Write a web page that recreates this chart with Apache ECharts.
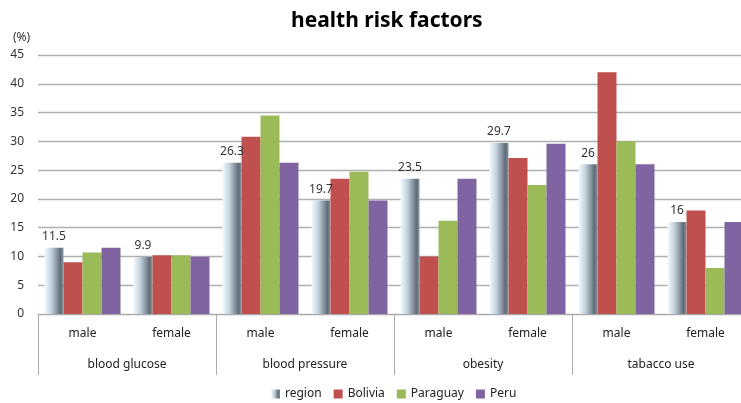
<!DOCTYPE html>
<html>
<head>
<meta charset="utf-8">
<script src="https://cdn.jsdelivr.net/npm/echarts@6/dist/echarts.min.js"></script>
<style>html,body{margin:0;padding:0;background:#fff;overflow:hidden;width:741px;height:403px;}#c{width:750px;height:403px;}</style>
</head>
<body>
<div id="c"></div>
<script>
const subCategories = ['male','female','male','female','male','female','male','female'];
const groups = ['blood glucose','blood pressure','obesity','tabacco use'];
const yTicks = [0,5,10,15,20,25,30,35,40,45];
const region   = [11.5, 9.9, 26.3, 19.7, 23.5, 29.7, 26, 16];
const bolivia  = [9.0, 10.2, 30.8, 23.5, 10.0, 27.1, 42.0, 18.0];
const paraguay = [10.7, 10.2, 34.5, 24.7, 16.2, 22.4, 30.0, 8.0];
const peru     = [11.5, 9.95, 26.3, 19.7, 23.5, 29.6, 26.0, 16.0];

const FONT = 'Noto Sans';
const chart = echarts.init(document.getElementById('c'), null, {renderer:'canvas'});
const regionGrad = new echarts.graphic.LinearGradient(0,0,1,0,[
  {offset:0, color:'#f4fbff'},
  {offset:0.35, color:'#c4d3de'},
  {offset:0.7, color:'#7d8b97'},
  {offset:0.85, color:'#5e6b76'},
  {offset:1, color:'#8e9aa4'}
]);
chart.setOption({
  animation:false,
  textStyle:{fontFamily:FONT},
  title:{text:'health risk factors', left:286, top:6,
    textStyle:{fontSize:21, fontWeight:'bold', color:'#000', fontFamily:FONT}},
  graphic:[{type:'text', left:13, top:32, style:{text:'(%)', fontSize:12, fill:'#333', fontFamily:FONT}}],
  legend:{bottom:-2, left:266, itemWidth:9, itemHeight:9, itemGap:12, icon:'rect',
    textStyle:{fontSize:12, color:'#222', fontFamily:FONT},
    data:['region','Bolivia','Paraguay','Peru']},
  grid:{left:38, top:55, bottom:89, right:0, containLabel:false},
  xAxis:[
    {type:'category', data:subCategories, position:'bottom',
      axisLine:{show:true, lineStyle:{color:'#aaa', width:1}},
      axisTick:{show:false},
      axisLabel:{margin:14, fontSize:12, color:'#222', interval:0}},
    {type:'category', data:groups, position:'bottom',
      axisLine:{show:false},
      axisTick:{show:true, length:61, interval:0, lineStyle:{color:'#aaa', width:1}},
      axisLabel:{margin:45, fontSize:12, color:'#222', interval:0}}
  ],
  yAxis:{type:'value', min:0, max:45, interval:5,
    axisLine:{show:false}, axisTick:{show:false},
    axisLabel:{margin:14, fontSize:12, color:'#333'},
    splitLine:{lineStyle:{color:'#b0b0b0', width:1.3}}},
  series:[
    {name:'region', type:'bar', data:region, barWidth:19, barGap:'0%',
      itemStyle:{color:regionGrad},
      label:{show:true, position:'top', distance:5, fontSize:12, color:'#333'}},
    {name:'Bolivia', type:'bar', data:bolivia, barWidth:19, barGap:'0%', itemStyle:{color:'#c0504d'}},
    {name:'Paraguay', type:'bar', data:paraguay, barWidth:19, barGap:'0%', itemStyle:{color:'#9bbb59'}},
    {name:'Peru', type:'bar', data:peru, barWidth:19, barGap:'0%', itemStyle:{color:'#8064a2'}}
  ]
});
</script>
</body>
</html>
